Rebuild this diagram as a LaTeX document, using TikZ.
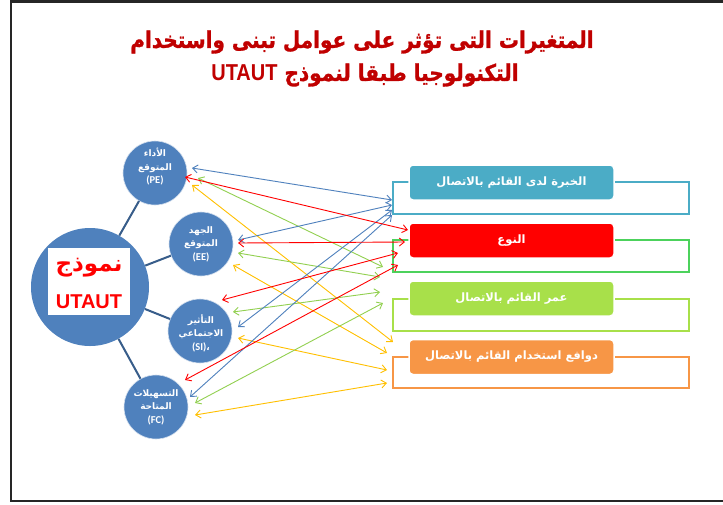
\documentclass[tikz,border=0pt]{standalone}
\usepackage{fontspec}
\setmainfont{Liberation Sans}
\newfontfamily\arabicfont[Script=Arabic]{DejaVu Sans}
\newfontfamily\titlefont[Script=Arabic, FakeBold=1.2]{DejaVu Sans}
\newfontfamily\latinlbl{Carlito}
\TeXXeTstate=1
\usetikzlibrary{arrows.meta}
\definecolor{titlered}{HTML}{C00000}
\definecolor{circblue}{HTML}{4F81BD}
\definecolor{linkblue}{HTML}{385D8A}
\definecolor{arrblue}{HTML}{4F81BD}
\definecolor{arrred}{HTML}{FF0000}
\definecolor{arrgreen}{HTML}{92D050}
\definecolor{arryellow}{HTML}{FFC000}
\definecolor{expfill}{HTML}{4BACC6}
\definecolor{genfill}{HTML}{FF0000}
\definecolor{genline}{HTML}{4CD25C}
\definecolor{agefill}{HTML}{A8E04A}
\definecolor{motfill}{HTML}{F79646}
\newcommand{\ar}[1]{{\arabicfont\beginR #1\endR}}
\tikzset{
  varc/.style={circle, fill=circblue, draw=white!75!circblue, line width=0.6pt, minimum size=64pt, inner sep=0pt},
  vtext/.style={text=white, font=\bfseries\fontsize{9}{13.5}\selectfont, align=center, inner sep=0pt},
  link/.style={draw=linkblue, line width=2pt},
  biarrow/.style={{Straight Barb[length=5pt,width=8pt]}-{Straight Barb[length=5pt,width=8pt]}, line width=0.9pt},
  modbox/.style={rounded corners=4pt, draw=white, line width=1.5pt, minimum width=205pt, minimum height=35pt, inner sep=0pt, text=white, font=\bfseries\fontsize{11.5}{13}\selectfont},
  outl/.style={line width=2pt},
  titletxt/.style={text=titlered, font=\bfseries\fontsize{20}{24}\selectfont, inner sep=0pt},
}
\begin{document}
\begin{tikzpicture}[x=1pt,y=-1pt]
\useasboundingbox (0,0) rectangle (723,504);
\fill[white] (0,0) rectangle (723,504);
\draw[line width=2.5pt, black!85] (11,1.5) rectangle (740,501);

% title
\node[titletxt] (t1) at (362,42) {\scalebox{1}[1.15]{\titlefont\beginR المتغيرات التى تؤثر على عوامل تبنى واستخدام\endR}};
\node[titletxt] (t2) at (365,75) {\scalebox{1}[1.15]{\titlefont\beginR التكنولوجيا طبقا لنموذج \beginL\rmfamily UTAUT\endL\endR}};

% outline brackets
\draw[outl, draw=expfill] (393,182) rectangle (689,214);
\draw[outl, draw=genline] (393,240) rectangle (689,272);
\draw[outl, draw=agefill] (393,299) rectangle (689,331);
\draw[outl, draw=motfill] (393,357) rectangle (689,388);

% moderator boxes
\node[modbox, fill=expfill] (exp) at (511.5,182.5) {\ar{الخبرة لدى القائم بالاتصال}};
\node[modbox, fill=genfill] (gen) at (511.5,240.5) {\ar{النوع}};
\node[modbox, fill=agefill] (age) at (511.5,298.5) {\ar{عمر القائم بالاتصال}};
\node[modbox, fill=motfill] (mot) at (511.5,357) {\ar{دوافع استخدام القائم بالاتصال}};

% central model
\node[circle, fill=circblue, minimum size=118pt, inner sep=0pt] (utaut) at (90,287) {};
\node[fill=white, minimum width=82pt, minimum height=67pt, inner sep=0pt] (utbox) at (89,281.5) {};
\node[text=red, font=\bfseries\fontsize{23}{26}\selectfont, inner sep=0pt] (utar) at (89,268) {\ar{نموذج}};
\node[text=red, font=\bfseries\fontsize{20}{24}\selectfont, inner sep=0pt] (utla) at (89,302) {UTAUT};

% variables
\node[varc] (pe) at (155,173) {};
\node[varc] (ee) at (201,244) {};
\node[varc] (si) at (200,331) {};
\node[varc] (fc) at (156,407) {};

\node[vtext] (pet) at (155,167) {\ar{الأداء}\\\ar{المتوقع}\\{\latinlbl\fontsize{10.5}{12}\selectfont(PE)}};
\node[vtext] (eet) at (201,244) {\ar{الجهد}\\\ar{المتوقع}\\{\latinlbl\fontsize{10.5}{12}\selectfont(EE)}};
\node[vtext] (sit) at (201,333) {\ar{التأثير}\\\ar{الاجتماعي}\\{\latinlbl\fontsize{10.5}{12}\selectfont(SI)}\ar{،}};
\node[vtext] (fct) at (156,407) {\ar{التسهيلات}\\\ar{المتاحة}\\{\latinlbl\fontsize{10.5}{12}\selectfont(FC)}};

% links from model
\draw[link] (utaut) -- (pe);
\draw[link] (utaut) -- (ee);
\draw[link] (utaut) -- (si);
\draw[link] (utaut) -- (fc);

% arrow end points near variables
\coordinate (pe-b) at ([shift={(37,-5)}]pe.center);
\coordinate (pe-r) at ([shift={(30,4)}]pe.center);
\coordinate (pe-g) at ([shift={(43,5)}]pe.center);
\coordinate (pe-y) at ([shift={(37,12)}]pe.center);
\coordinate (ee-b) at ([shift={(37,-4)}]ee.center);
\coordinate (ee-r) at ([shift={(37,-1)}]ee.center);
\coordinate (ee-g) at ([shift={(37,9)}]ee.center);
\coordinate (ee-y) at ([shift={(32,21)}]ee.center);
\coordinate (si-r) at ([shift={(22,-31)}]si.center);
\coordinate (si-g) at ([shift={(33,-19)}]si.center);
\coordinate (si-b) at ([shift={(38,-4)}]si.center);
\coordinate (si-y) at ([shift={(38,7)}]si.center);
\coordinate (fc-r) at ([shift={(29,-27)}]fc.center);
\coordinate (fc-b) at ([shift={(34,-10)}]fc.center);
\coordinate (fc-g) at ([shift={(39,-4)}]fc.center);
\coordinate (fc-y) at ([shift={(39,8)}]fc.center);

% arrow end points near moderators
\coordinate (exp-1) at (392,200);
\coordinate (exp-2) at (392,205);
\coordinate (exp-3) at (392,210);
\coordinate (exp-4) at (392,215);
\coordinate (gen-1) at (408,230);
\coordinate (gen-2) at (405,242);
\coordinate (gen-3) at (398,253);
\coordinate (gen-4) at (398,265);
\coordinate (age-1) at (383,267);
\coordinate (age-2) at (380,277);
\coordinate (age-3) at (380,292);
\coordinate (age-4) at (383,303);
\coordinate (mot-1) at (393,342);
\coordinate (mot-2) at (387,353);
\coordinate (mot-3) at (387,370);
\coordinate (mot-4) at (387,383);

% arrows
\draw[biarrow, arryellow] (pe-y) -- (mot-1);
\draw[biarrow, arryellow] (ee-y) -- (mot-2);
\draw[biarrow, arryellow] (si-y) -- (mot-3);
\draw[biarrow, arryellow] (fc-y) -- (mot-4);
\draw[biarrow, arrgreen] (pe-g) -- (age-1);
\draw[biarrow, arrgreen] (ee-g) -- (age-2);
\draw[biarrow, arrgreen] (si-g) -- (age-3);
\draw[biarrow, arrgreen] (fc-g) -- (age-4);
\draw[biarrow, arrblue] (pe-b) -- (exp-1);
\draw[biarrow, arrblue] (ee-b) -- (exp-2);
\draw[biarrow, arrblue] (si-b) -- (exp-3);
\draw[biarrow, arrblue] (fc-b) -- (exp-4);
\draw[biarrow, arrred] (pe-r) -- (gen-1);
\draw[biarrow, arrred] (ee-r) -- (gen-2);
\draw[biarrow, arrred] (si-r) -- (gen-3);
\draw[biarrow, arrred] (fc-r) -- (gen-4);
\end{tikzpicture}
\end{document}
